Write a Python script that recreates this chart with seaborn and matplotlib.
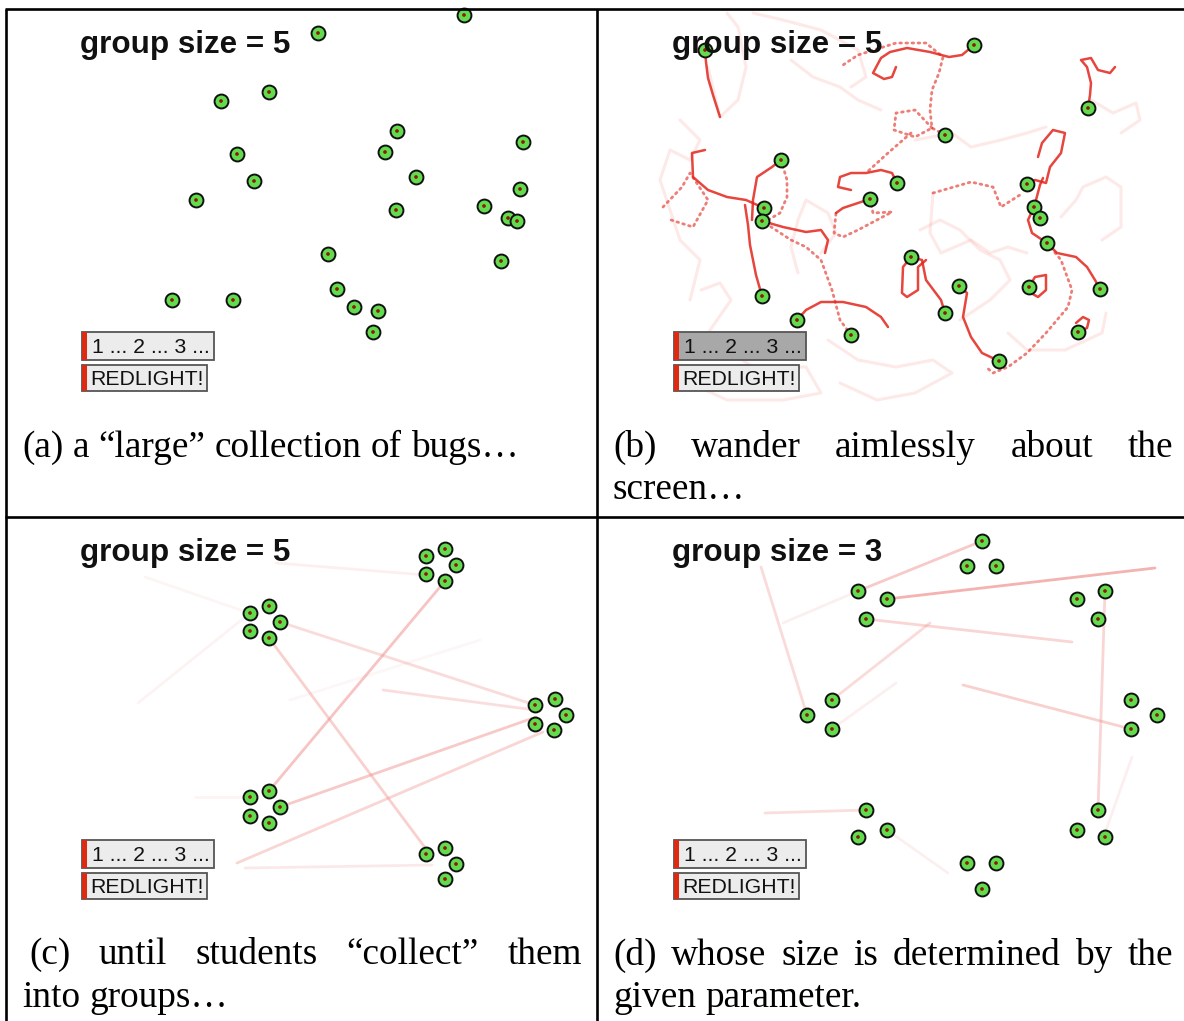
import matplotlib
matplotlib.use("Agg")
import matplotlib.pyplot as plt
import seaborn as sns
import pandas as pd
from matplotlib.patches import Rectangle
from matplotlib.font_manager import FontProperties

# ---------------- data (pixel coordinates) ----------------
a_x = [464, 318, 221, 269, 397, 523, 237, 385, 416, 254, 196, 520, 396, 484, 508, 517, 501, 328, 337, 354, 378, 373, 172, 233]
a_y = [15, 33, 101, 92, 131, 142, 154, 152, 177, 181, 200, 189, 210, 206, 218, 221, 261, 254, 289, 307, 311, 332, 300, 300]

b_x = [705, 974, 1088, 945, 781, 897, 870, 764, 762, 1027, 1034, 1040, 1047, 911, 959, 1029, 1100, 762, 945, 797, 851, 1078, 999]
b_y = [50, 45, 108, 135, 160, 183, 199, 208, 221, 184, 207, 218, 243, 257, 286, 287, 289, 296, 313, 320, 335, 332, 361]

c_x = [426, 445, 456, 426, 445, 250, 269, 280, 250, 269, 535, 555, 566, 535, 554, 250, 269, 280, 250, 269, 426, 445, 456, 445]
c_y = [556, 549, 565, 574, 581, 613, 606, 622, 631, 638, 705, 699, 715, 724, 730, 797, 791, 807, 816, 823, 854, 848, 864, 879]

d_x = [982, 967, 996, 858, 887, 866, 1077, 1105, 1098, 832, 807, 832, 1131, 1157, 1131, 866, 887, 858, 1098, 1077, 1105, 967, 996, 982]
d_y = [541, 566, 566, 591, 599, 619, 599, 591, 619, 700, 715, 729, 700, 715, 729, 810, 830, 837, 810, 830, 837, 863, 863, 889]

titles = ["group size = 5", "group size = 5", "group size = 5", "group size = 3"]
button_labels = ["1 ... 2 ... 3 ...", "REDLIGHT!"]

# recent (solid) trails in panel b
b_recent = [
    [(705, 50), (706, 62), (708, 78), (713, 95), (720, 117)],
    [(974, 45), (962, 55), (949, 57), (930, 52), (907, 48), (890, 52), (881, 58), (873, 73), (884, 79), (892, 77), (896, 67)],
    [(1088, 108), (1090, 95), (1091, 83), (1087, 67), (1081, 60), (1091, 58), (1098, 70), (1110, 73), (1115, 67)],
    [(781, 160), (772, 167), (757, 177), (753, 200), (752, 220)],
    [(762, 296), (756, 275), (750, 245), (748, 225), (745, 205)],
    [(764, 208), (746, 200), (727, 197), (708, 190), (693, 177), (692, 153), (705, 150)],
    [(762, 221), (783, 227), (806, 232), (821, 230), (828, 240), (825, 253)],
    [(897, 183), (892, 173), (881, 170), (866, 173), (851, 173), (840, 177), (838, 187), (851, 190)],
    [(870, 199), (858, 203), (843, 208), (836, 213)],
    [(911, 257), (922, 260), (926, 280), (941, 300), (945, 313)],
    [(911, 257), (903, 267), (902, 293), (907, 297), (918, 290), (918, 267), (926, 260)],
    [(959, 286), (967, 293), (963, 317), (971, 337), (982, 353), (999, 361)],
    [(797, 320), (806, 310), (821, 302), (843, 302), (866, 307), (881, 317), (888, 327)],
    [(1027, 184), (1035, 180), (1046, 183), (1050, 167), (1061, 153), (1065, 133), (1053, 130), (1042, 143), (1038, 157)],
    [(1034, 207), (1028, 220), (1032, 233), (1047, 243)],
    [(1047, 243), (1057, 253), (1076, 257), (1087, 267), (1095, 280), (1100, 289)],
    [(1029, 287), (1035, 277), (1046, 275), (1046, 290), (1038, 297), (1031, 293)],
    [(1078, 332), (1087, 328), (1089, 320), (1083, 317), (1076, 323)],
    [(1040, 218), (1036, 200), (1040, 185), (1043, 178)],
]

# dotted trails in panel b
b_dotted = [
    [(945, 135), (932, 128), (930, 110), (932, 90), (939, 73), (943, 57), (926, 43), (896, 43), (858, 55), (840, 67)],
    [(932, 128), (915, 110), (896, 113), (894, 130), (915, 137), (932, 128)],
    [(911, 133), (888, 153), (866, 173)],
    [(870, 199), (873, 213), (892, 212), (858, 230), (843, 237), (834, 233), (836, 213)],
    [(851, 335), (840, 320), (832, 290), (821, 260), (806, 247), (791, 240), (762, 221)],
    [(781, 160), (787, 180), (787, 197), (780, 213), (768, 220)],
    [(1047, 243), (1061, 260), (1072, 290), (1068, 307), (1057, 320), (1046, 333), (1027, 353), (1008, 367), (993, 373), (986, 367)],
    [(663, 207), (682, 187), (690, 173), (708, 200), (693, 227), (671, 220)],
    [(933, 193), (971, 182), (993, 187), (1001, 207), (1023, 193)],
]

# faint old trails in panel b
b_faint = [
    [(708, 67), (720, 117), (738, 100), (746, 67), (738, 27), (727, 13)],
    [(701, 290), (720, 283), (731, 300), (708, 333), (727, 350), (753, 367), (806, 367), (821, 393), (783, 400), (727, 400), (690, 383)],
    [(828, 340), (858, 360), (896, 367), (933, 360), (952, 373), (915, 393), (877, 400), (840, 383)],
    [(933, 193), (930, 233), (941, 253), (971, 240), (990, 253), (1008, 247), (1027, 253)],
    [(1061, 217), (1076, 200), (1083, 187), (1106, 177), (1121, 187), (1121, 227), (1102, 240)],
    [(1091, 100), (1113, 113), (1136, 103), (1140, 120), (1121, 133)],
    [(821, 253), (836, 233), (828, 213), (806, 200), (798, 220), (791, 247), (798, 273)],
    [(753, 13), (783, 20), (821, 30), (858, 50), (866, 77), (851, 87)],
    [(791, 60), (813, 77), (840, 87), (858, 100), (881, 110)],
    [(915, 140), (952, 133), (971, 147), (1001, 140), (1027, 133), (1046, 127)],
    [(1008, 333), (1027, 350), (1065, 350), (1102, 333), (1106, 313)],
    [(680, 120), (700, 140), (690, 160), (670, 150), (660, 180), (680, 240), (700, 260), (690, 300)],
    [(960, 320), (990, 300), (1010, 280), (1000, 260), (980, 250), (960, 230), (940, 220), (920, 230)],
]

# faint pink lines in panel c
c_lines = [
    (269, 791, 445, 581, 0.5), (269, 638, 432, 857, 0.4), (280, 622, 535, 705, 0.3),
    (280, 807, 536, 717, 0.45), (237, 863, 543, 732, 0.35), (245, 868, 432, 865, 0.18),
    (276, 563, 426, 575, 0.13), (138, 703, 250, 613, 0.1), (145, 577, 249, 613, 0.09),
    (383, 690, 535, 710, 0.28), (195, 797, 250, 797, 0.09), (290, 700, 480, 640, 0.07),
]

# faint pink lines in panel d
d_lines = [
    (858, 591, 982, 541, 0.45), (887, 599, 1155, 568, 0.65), (866, 619, 1072, 642, 0.35),
    (963, 685, 1131, 729, 0.4), (1105, 591, 1098, 810, 0.35), (807, 715, 761, 567, 0.3),
    (832, 700, 930, 623, 0.3), (832, 729, 896, 683, 0.13), (866, 810, 765, 813, 0.28),
    (783, 623, 858, 591, 0.13), (887, 830, 948, 873, 0.13), (1132, 757, 1106, 830, 0.13),
]

captions = {
    "a": [["(a)", "a", "“large”", "collection", "of", "bugs…"]],
    "b": [["(b)", "wander", "aimlessly", "about", "the"], ["screen…"]],
    "c": [["(c)", "until", "students", "“collect”", "them"], ["into", "groups…"]],
    "d": [["(d)", "whose", "size", "is", "determined", "by", "the"], ["given", "parameter."]],
}

# ---------------- figure ----------------
sns.set_theme(style="white")
W, H = 1184, 1021
fig = plt.figure(figsize=(W / 100, H / 100), dpi=100)
ax = fig.add_axes([0, 0, 1, 1])
ax.set_xlim(0, W)
ax.set_ylim(H, 0)
ax.axis("off")

RED = "#e2261c"

# trails in panel b
for tr in b_faint:
    xs, ys = zip(*tr)
    ax.plot(xs, ys, color="#f07a70", alpha=0.16, lw=2.2, solid_capstyle="round",
            solid_joinstyle="round", zorder=1)
for tr in b_dotted:
    xs, ys = zip(*tr)
    ax.plot(xs, ys, color=RED, alpha=0.6, lw=2.0, linestyle=(0, (0.6, 1.6)), dash_capstyle="round", zorder=2)
for tr in b_recent:
    xs, ys = zip(*tr)
    ax.plot(xs, ys, color=RED, alpha=0.85, lw=1.8, solid_joinstyle="round", zorder=3)

for (x0, y0, x1, y1, al) in c_lines + d_lines:
    ax.plot([x0, x1], [y0, y1], color="#ee8a86", alpha=al, lw=2.0, zorder=2)

# bugs
frames = []
for name, xs, ys in [("a", a_x, a_y), ("b", b_x, b_y), ("c", c_x, c_y), ("d", d_x, d_y)]:
    frames.append(pd.DataFrame({"x": xs, "y": ys, "panel": name}))
bugs = pd.concat(frames, ignore_index=True)
sns.scatterplot(data=bugs, x="x", y="y", ax=ax, s=100, color="#62dc4e",
                edgecolor="#111111", linewidth=1.4, legend=False, zorder=6)
sns.scatterplot(data=bugs, x="x", y="y", ax=ax, s=7, color="#8a1c05",
                edgecolor="none", linewidth=0, legend=False, zorder=7)
ax.set_xlim(0, W)
ax.set_ylim(H, 0)
ax.set_xlabel("")
ax.set_ylabel("")

# panel decorations
offsets = {"a": (0, 0), "b": (592, 0), "c": (0, 508), "d": (592, 508)}
title_fp = FontProperties(family="Liberation Sans", weight="bold", size=22.6)
btn_fp = FontProperties(family="Liberation Sans", size=15.3)
for i, key in enumerate(["a", "b", "c", "d"]):
    dx, dy = offsets[key]
    ax.text(80 + dx, 53 + dy, titles[i], fontproperties=title_fp, color="#111111",
            ha="left", va="baseline", zorder=8)
    # buttons
    face1 = "#a8a8a8" if key == "b" else "#ececec"
    ax.add_patch(Rectangle((82 + dx, 332 + dy), 132, 28, facecolor=face1, edgecolor="#555555", lw=1.3, zorder=8))
    ax.add_patch(Rectangle((82 + dx, 332 + dy), 5, 28, facecolor="#dd2a12", edgecolor="none", zorder=9))
    ax.add_patch(Rectangle((82 + dx, 365 + dy), 125, 26, facecolor="#ececec", edgecolor="#555555", lw=1.3, zorder=8))
    ax.add_patch(Rectangle((82 + dx, 365 + dy), 5, 26, facecolor="#dd2a12", edgecolor="none", zorder=9))
    ax.text(92 + dx, 347 + dy, button_labels[0], fontproperties=btn_fp, color="#111111",
            ha="left", va="center", zorder=10)
    ax.text(90 + dx, 379 + dy, button_labels[1], fontproperties=btn_fp, color="#111111",
            ha="left", va="center", zorder=10)

# captions (justified like the original)
cap_fp = FontProperties(family="Liberation Serif", size=26.8)
renderer = fig.canvas.get_renderer()
cap_layout = {
    "a": (22, 582, [457]),
    "b": (613, 1173, [457, 499]),
    "c": (29, 582, [964, 1007]),
    "d": (613, 1173, [965, 1007]),
}
space_w = renderer.get_text_width_height_descent("a a", cap_fp, ismath=False)[0] - \
    2 * renderer.get_text_width_height_descent("a", cap_fp, ismath=False)[0]
for key, lines in captions.items():
    x0, x1, ys = cap_layout[key]
    for li, words in enumerate(lines):
        widths = [renderer.get_text_width_height_descent(w, cap_fp, ismath=False)[0] for w in words]
        justify = li < len(lines) - 1
        if justify and len(words) > 1:
            gap = (x1 - x0 - sum(widths)) / (len(words) - 1)
        else:
            gap = space_w
        x = x0 if not (key == "c" and li == 1) else 22
        for w, wd in zip(words, widths):
            ax.text(x, ys[li], w, fontproperties=cap_fp, color="black", ha="left", va="baseline", zorder=10)
            x += wd + gap

# grid borders
kw = dict(color="black", lw=1.9, solid_capstyle="butt", zorder=11)
ax.plot([5.5, 5.5], [9.5, H], **kw)
ax.plot([4.6, W], [9.5, 9.5], **kw)
ax.plot([597, 597], [9.5, H], **kw)
ax.plot([4.6, W], [516.5, 516.5], **kw)

fig.savefig("out.png", dpi=100)
